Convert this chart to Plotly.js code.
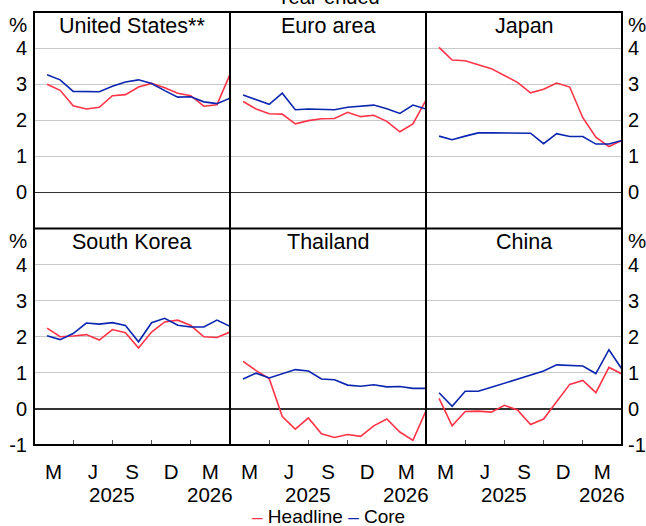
<!DOCTYPE html>
<html>
<head>
<meta charset="utf-8">
<script src="https://cdn.plot.ly/plotly-3.0.1.min.js"></script>
<style>html,body{margin:0;padding:0;background:#fff;}</style>
</head>
<body>
<div id="chart" style="width:646px;height:526px;"></div>
<script>
// Monthly observations, year-ended inflation (%)
const months = ['Jan-2025','Feb-2025','Mar-2025','Apr-2025','May-2025','Jun-2025','Jul-2025',
                'Aug-2025','Sep-2025','Oct-2025','Nov-2025','Dec-2025','Jan-2026','Feb-2026','Mar-2026'];
const quarterLabels = ['M','J','S','D','M'];
const yearLabels = ['2025','2026'];
const economies = ['United States**','Euro area','Japan','South Korea','Thailand','China'];
const yTicksTop = [0, 1, 2, 3, 4];
const yTicksBottom = [-1, 0, 1, 2, 3, 4];

const usHeadline = [3.00,2.83,2.40,2.31,2.36,2.68,2.71,2.92,3.02,2.90,2.75,2.68,2.39,2.43,3.27];
const usCore     = [3.26,3.12,2.80,2.79,2.79,2.94,3.06,3.12,3.02,2.82,2.64,2.65,2.51,2.46,2.61];
const euHeadline = [2.52,2.31,2.18,2.17,1.90,1.99,2.04,2.05,2.22,2.10,2.14,1.97,1.68,1.90,2.56];
const euCore     = [2.70,2.56,2.44,2.75,2.29,2.31,2.31,2.29,2.36,2.40,2.42,2.32,2.19,2.42,2.31];
const jpHeadline = [4.02,3.67,3.65,3.54,3.43,3.24,3.05,2.76,2.86,3.03,2.92,2.07,1.53,1.27,1.44];
const jpCore     = [1.56,1.46,1.56,1.65,1.65,1.65,1.65,1.64,1.35,1.63,1.55,1.55,1.34,1.34,1.44];
const krHeadline = [2.24,2.00,2.02,2.06,1.91,2.20,2.11,1.69,2.13,2.41,2.46,2.31,2.00,1.98,2.13];
const krCore     = [2.03,1.92,2.09,2.38,2.35,2.39,2.31,1.86,2.39,2.51,2.32,2.27,2.27,2.46,2.29];
const thHeadline = [1.32,1.06,0.84,-0.21,-0.56,-0.25,-0.69,-0.79,-0.71,-0.76,-0.47,-0.28,-0.64,-0.87,-0.05];
const thCore     = [0.83,0.99,0.86,0.97,1.09,1.05,0.83,0.81,0.66,0.63,0.67,0.61,0.62,0.57,0.57];
const cnHeadline = [0.29,-0.47,-0.07,-0.06,-0.09,0.10,-0.03,-0.43,-0.28,0.20,0.68,0.79,0.45,1.15,0.97];
const cnCore     = [0.45,0.07,0.49,0.49,0.60,0.71,0.82,0.93,1.05,1.22,1.21,1.19,0.98,1.64,1.10];

const headlineSeries = [usHeadline, euHeadline, jpHeadline, krHeadline, thHeadline, cnHeadline];
const coreSeries     = [usCore, euCore, jpCore, krCore, thCore, cnCore];

const RED = '#ff3347';
const BLUE = '#0b25b0';
const FONT = 'Liberation Sans, Arial, Helvetica, sans-serif';

// month n sits at the end of its month on a numeric axis
const xPos = months.map((m, i) => i + 1);
const quarterMid = quarterLabels.map((q, i) => 1.5 + 3 * i);
const quarterEdge = [3, 6, 9, 12];

const traces = [];
const layout = {
  width: 646, height: 526,
  margin: {l: 34, r: 24, t: 12, b: 81},
  paper_bgcolor: '#fff', plot_bgcolor: '#fff',
  showlegend: false,
  hovermode: false,
  font: {family: FONT, size: 20, color: '#000'},
  annotations: [],
  shapes: []
};

economies.forEach((name, i) => {
  const s = i === 0 ? '' : String(i + 1);
  const col = i % 3;
  const row = Math.floor(i / 3);      // 0 = top, 1 = bottom
  const bottomRow = row === 1;

  traces.push({x: xPos, y: headlineSeries[i], xaxis: 'x' + s, yaxis: 'y' + s,
               type: 'scatter', mode: 'lines', name: 'Headline',
               line: {color: RED, width: 1.6}});
  traces.push({x: xPos, y: coreSeries[i], xaxis: 'x' + s, yaxis: 'y' + s,
               type: 'scatter', mode: 'lines', name: 'Core',
               line: {color: BLUE, width: 1.6}});

  const xa = {
    domain: [col / 3, (col + 1) / 3],
    anchor: 'y' + s,
    range: [0, 15],
    showgrid: false, zeroline: false, showline: false,
    fixedrange: true
  };
  if (bottomRow) {
    Object.assign(xa, {
      tickmode: 'array', tickvals: quarterMid, ticktext: quarterLabels,
      ticks: '', ticklabelstandoff: 12,
      tickfont: {family: FONT, size: 20.5, color: '#000'},
      minor: {tickmode: 'array', tickvals: quarterEdge, ticks: 'inside',
              ticklen: 5, tickwidth: 1, tickcolor: '#555', showgrid: false}
    });
  } else {
    xa.showticklabels = false;
    xa.ticks = '';
  }
  layout['xaxis' + (i === 0 ? '' : i + 1)] = xa;

  const yt = bottomRow ? yTicksBottom : yTicksTop;
  const ya = {
    domain: row === 0 ? [0.5, 1] : [0, 0.5],
    anchor: 'x' + s,
    range: [-1, 5],
    tickmode: 'array',
    tickvals: yt,
    ticktext: yt.map(v => String(v)),
    ticks: '',
    showgrid: true, gridcolor: '#c8c8c8', gridwidth: 1,
    zeroline: true, zerolinecolor: '#333', zerolinewidth: 1.2,
    showline: false,
    showticklabels: col !== 1,
    side: col === 2 ? 'right' : 'left',
    ticklabelstandoff: col === 2 ? 5 : 6,
    tickfont: {family: FONT, size: 20, color: '#000'},
    fixedrange: true
  };
  layout['yaxis' + (i === 0 ? '' : i + 1)] = ya;

  // panel title
  layout.annotations.push({
    text: name, xref: 'x' + s + ' domain', yref: 'y' + s,
    x: 0.5, y: 4.62, xanchor: 'center', yanchor: 'middle',
    showarrow: false, font: {family: FONT, size: 21.5, color: '#000'}
  });

  // unit labels at the top of the outer axes
  if (col !== 1) {
    layout.annotations.push({
      text: '%', xref: 'paper', yref: 'y' + s,
      x: col === 0 ? -0.0272 : 1.0255, y: 4.66,
      xanchor: 'center', yanchor: 'middle',
      showarrow: false, font: {family: FONT, size: 20.5, color: '#000'}
    });
  }

  // year labels beneath the quarter letters
  if (bottomRow) {
    [6, 13.5].forEach((xv, k) => {
      layout.annotations.push({
        text: yearLabels[k], xref: 'x' + s, yref: 'paper',
        x: xv, y: -0.1143, xanchor: 'center', yanchor: 'middle',
        showarrow: false, font: {family: FONT, size: 20.5, color: '#000'}
      });
    });
  }
});

// overall title (sits partly above the frame)
layout.annotations.push({
  text: 'Year-ended', xref: 'paper', yref: 'paper', x: 0.5, y: 1.0346,
  xanchor: 'center', yanchor: 'middle', showarrow: false,
  font: {family: FONT, size: 20, color: '#000'}
});

// key
layout.annotations.push({
  text: '<span style="color:' + RED + '">\u2013</span> Headline <span style="color:' + BLUE + '">\u2013</span> Core',
  xref: 'paper', yref: 'paper', x: 0.5017, y: -0.166,
  xanchor: 'center', yanchor: 'middle', showarrow: false,
  font: {family: FONT, size: 19, color: '#000'}
});

// panel frame
const frame = {color: '#000', width: 2};
layout.shapes.push({type: 'rect', xref: 'paper', yref: 'paper', x0: 0, x1: 1, y0: 0, y1: 1, line: frame, layer: 'above'});
layout.shapes.push({type: 'line', xref: 'paper', yref: 'paper', x0: 1/3, x1: 1/3, y0: 0, y1: 1, line: frame, layer: 'above'});
layout.shapes.push({type: 'line', xref: 'paper', yref: 'paper', x0: 2/3, x1: 2/3, y0: 0, y1: 1, line: frame, layer: 'above'});
layout.shapes.push({type: 'line', xref: 'paper', yref: 'paper', x0: 0, x1: 1, y0: 0.5, y1: 0.5, line: frame, layer: 'above'});

Plotly.newPlot('chart', traces, layout, {staticPlot: true, displayModeBar: false});
</script>
</body>
</html>
